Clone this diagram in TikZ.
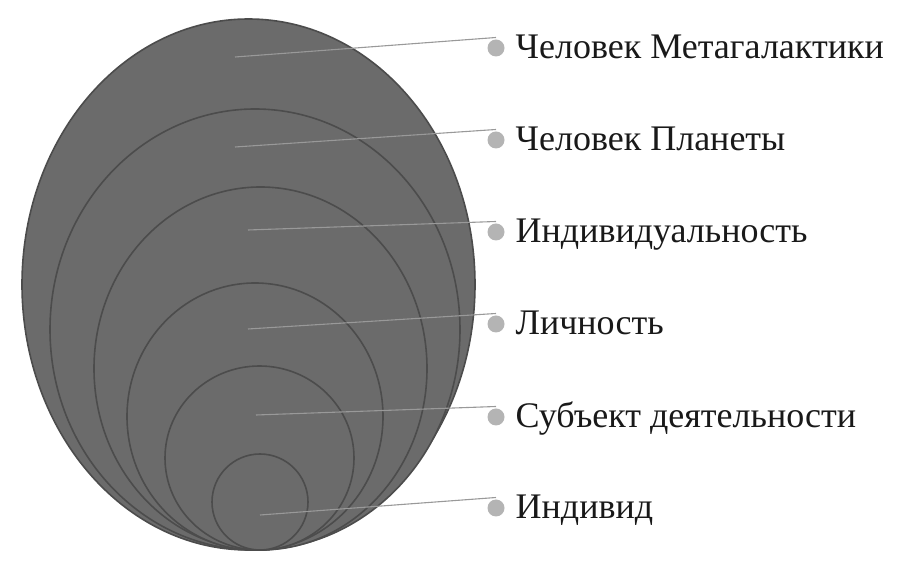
\documentclass[tikz,border=0pt]{standalone}
\usepackage{fontspec}
\setmainfont{Liberation Serif}
\usetikzlibrary{shapes.geometric,positioning}

\definecolor{layerfill}{HTML}{6B6B6B}
\definecolor{layeredge}{HTML}{4C4C4C}
\definecolor{leader}{HTML}{999999}
\definecolor{bullet}{HTML}{B4B4B4}

\tikzstyle{layer} = [ellipse, draw=layeredge, fill=layerfill, line width=1.6pt, inner sep=0pt, outer sep=0pt]
\tikzstyle{dot} = [circle, fill=bullet, minimum size=17pt, inner sep=0pt, outer sep=2pt]
\tikzstyle{leaderline} = [draw=leader, line width=1.1pt]
\tikzstyle{caption} = [font=\fontsize{36}{36}\selectfont, text=black!90, text height=25pt, text depth=4pt, inner sep=0pt]

\begin{document}
\begin{tikzpicture}[x=1pt, y=1pt, node distance=9pt]
\useasboundingbox (0,0) rectangle (905,575);

\node (metagalaxy) [layer, minimum width=453pt, minimum height=531pt] at (248.5,290.5) {};
\node (planet) [layer, minimum width=410pt, minimum height=441pt] at (255,245.5) {};
\node (individuality) [layer, minimum width=333pt, minimum height=363pt] at (260.5,206.5) {};
\node (personality) [layer, minimum width=256pt, minimum height=267pt] at (255,158.5) {};
\node (subject) [layer, minimum width=189pt, minimum height=184pt] at (259.5,117) {};
\node (individual) [layer, minimum width=96pt, minimum height=96pt] at (260,73) {};

\coordinate (pmetagalaxy) at (235,518);
\coordinate (pplanet) at (235,428);
\coordinate (pindividuality) at (248,345);
\coordinate (ppersonality) at (248,246);
\coordinate (psubject) at (256,160);
\coordinate (pindividual) at (260,60);

\node (dmetagalaxy) [dot] at (496,527) {};
\node (dplanet) [dot] at (496,435) {};
\node (dindividuality) [dot] at (496,343) {};
\node (dpersonality) [dot] at (496,251) {};
\node (dsubject) [dot] at (496,158) {};
\node (dindividual) [dot] at (496,67) {};

\node (lmetagalaxy) [caption, right=of dmetagalaxy] {Человек Метагалактики};
\node (lplanet) [caption, right=of dplanet] {Человек Планеты};
\node (lindividuality) [caption, right=of dindividuality] {Индивидуальность};
\node (lpersonality) [caption, right=of dpersonality] {Личность};
\node (lsubject) [caption, right=of dsubject] {Субъект деятельности};
\node (lindividual) [caption, right=of dindividual] {Индивид};

\draw[leaderline] (pmetagalaxy) -- (dmetagalaxy.north);
\draw[leaderline] (pplanet) -- (dplanet.north);
\draw[leaderline] (pindividuality) -- (dindividuality.north);
\draw[leaderline] (ppersonality) -- (dpersonality.north);
\draw[leaderline] (psubject) -- (dsubject.north);
\draw[leaderline] (pindividual) -- (dindividual.north);

\end{tikzpicture}
\end{document}
